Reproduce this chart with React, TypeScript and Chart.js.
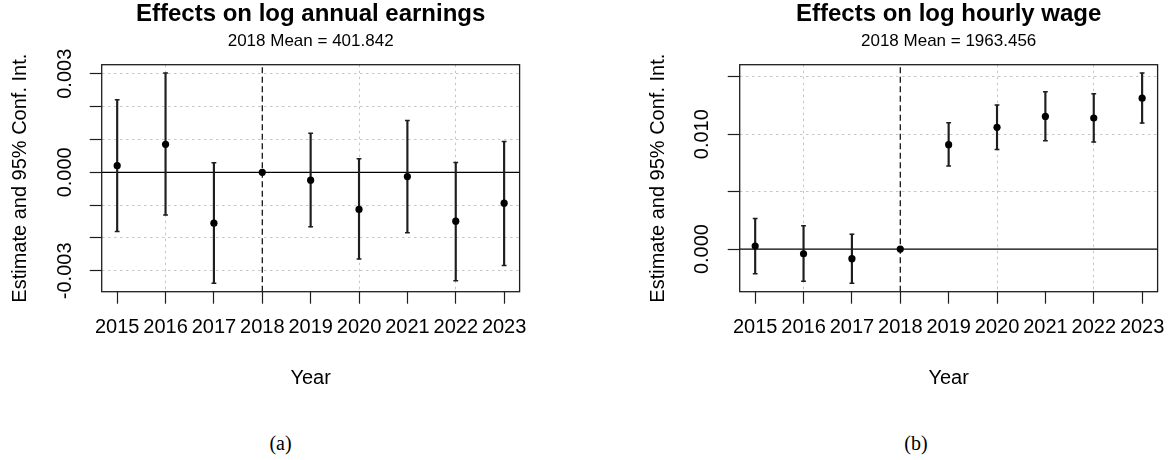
import { useEffect, useRef } from 'react';
import { Chart, registerables } from 'chart.js';

Chart.register(...registerables);
Chart.defaults.font.family = "'Liberation Sans', Arial, Helvetica, sans-serif";
Chart.defaults.color = '#000';

// Event-study years; 2018 is the reference year (normalised to zero)
const years = [2015, 2016, 2017, 2018, 2019, 2020, 2021, 2022, 2023];
const refYear = 2018;

// Panel (a): log annual earnings
const earningsEst = [0.0002, 0.00085, -0.00155, 0, -0.00024, -0.00113, -0.00013, -0.00149, -0.00094];
const earningsLo = [-0.0018, -0.0013, -0.00338, null, -0.00166, -0.00264, -0.00184, -0.0033, -0.00284];
const earningsHi = [0.00221, 0.00302, 0.00029, null, 0.00119, 0.00041, 0.00158, 0.0003, 0.00094];
const earningsTicks = [-0.003, -0.002, -0.001, 0, 0.001, 0.002, 0.003];
const earningsTickLabels = ['-0.003', '', '', '0.000', '', '', '0.003'];

// Panel (b): log hourly wage
const wageEst = [0.00026, -0.00041, -0.00084, 0, 0.00909, 0.0106, 0.01155, 0.01141, 0.01314];
const wageLo = [-0.00214, -0.00281, -0.00298, null, 0.00724, 0.00866, 0.00944, 0.00932, 0.01097];
const wageHi = [0.00266, 0.00203, 0.0013, null, 0.011, 0.01254, 0.01369, 0.01352, 0.01532];
const wageTicks = [0, 0.005, 0.01, 0.015];
const wageTickLabels = ['0.000', '', '0.010', ''];

const GRID = '#c6c6c6';
const CLEAR = 'rgba(0,0,0,0)';
const INK = '#1e1e1e';

// base-R style axis limits: data range widened by 4% on each side
function padRange(values: number[]) {
  const lo = Math.min(...values);
  const hi = Math.max(...values);
  const d = (hi - lo) * 0.04;
  return [lo - d, hi + d];
}

const plotBox = {
  id: 'plotBox',
  afterDraw(chart: any) {
    const { ctx, chartArea } = chart;
    const { left, top, right, bottom } = chartArea;
    ctx.save();
    ctx.strokeStyle = INK;
    ctx.lineWidth = 1.3;
    ctx.strokeRect(left, top, right - left, bottom - top);
    ctx.restore();
  },
};

type PanelProps = {
  left: number;
  title: string;
  subtitle: string;
  est: number[];
  lo: (number | null)[];
  hi: (number | null)[];
  yTicks: number[];
  yTickLabels: string[];
  yTickPad: number;
};

function Panel(p: PanelProps) {
  const ref = useRef<HTMLCanvasElement>(null);

  useEffect(() => {
    const [xMin, xMax] = padRange(years);
    const finite = [...p.est, ...p.lo, ...p.hi].filter((v) => v !== null) as number[];
    const [yMin, yMax] = padRange(finite);

    const points = years.map((x, i) => ({ x, y: p.est[i] }));
    const caps: { x: number; y: number }[] = [];
    const whiskers: { x: number; y: [number, number] }[] = [];
    years.forEach((x, i) => {
      const l = p.lo[i];
      const h = p.hi[i];
      if (l !== null && h !== null) {
        caps.push({ x, y: l }, { x, y: h });
        whiskers.push({ x, y: [l, h] });
      }
    });

    const chart = new Chart(ref.current as HTMLCanvasElement, {
      type: 'scatter',
      data: {
        datasets: [
          {
            type: 'scatter',
            data: points,
            pointRadius: 3.6,
            pointHoverRadius: 3.6,
            backgroundColor: '#000',
            borderWidth: 0,
          },
          {
            type: 'scatter',
            data: caps,
            pointStyle: 'line',
            pointRadius: 2.4,
            borderColor: INK,
            borderWidth: 1.5,
          },
          {
            type: 'bar',
            data: whiskers as any,
            barThickness: 1.5,
            backgroundColor: INK,
            borderWidth: 0,
          },
          {
            type: 'line',
            data: [
              { x: xMin, y: 0 },
              { x: xMax, y: 0 },
            ],
            borderColor: '#000',
            borderWidth: 1.2,
            pointRadius: 0,
            fill: false,
          },
          {
            type: 'line',
            data: [
              { x: refYear, y: yMin },
              { x: refYear, y: yMax },
            ],
            borderColor: '#000',
            borderWidth: 1.2,
            borderDash: [6, 3.5],
            pointRadius: 0,
            fill: false,
          },
        ] as any,
      },
      options: {
        responsive: false,
        animation: false,
        devicePixelRatio: 1,
        events: [],
        layout: { padding: { left: 0, right: 14.4, top: 0, bottom: 8.3 } },
        plugins: {
          legend: { display: false },
          tooltip: { enabled: false },
          title: {
            display: true,
            text: p.title,
            fullSize: false,
            color: '#000',
            font: { size: 24, weight: 'bold' },
            padding: { top: 0, bottom: 2.8 },
          },
          subtitle: {
            display: true,
            text: p.subtitle,
            fullSize: false,
            color: '#000',
            font: { size: 17 },
            padding: { top: 0, bottom: 12.7 },
          },
        },
        scales: {
          x: {
            type: 'linear',
            min: xMin,
            max: xMax,
            offset: false,
            afterBuildTicks: (s: any) => {
              s.ticks = years.map((v) => ({ value: v }));
            },
            afterFit: (s: any) => {
              s.height = 100;
            },
            ticks: {
              autoSkip: false,
              minRotation: 0,
              maxRotation: 0,
              padding: 0,
              color: '#000',
              font: { size: 20, lineHeight: 2.35 },
              callback: (v: any) => String(v),
            },
            grid: {
              offset: false,
              color: (c: any) =>
                c.tick && c.tick.value % 2 === 0 && c.tick.value !== refYear ? GRID : CLEAR,
              lineWidth: 1,
              tickColor: INK,
              tickLength: 12,
              tickWidth: 1.2,
            },
            border: { display: false, dash: [2.5, 3.5] },
            title: {
              display: true,
              text: 'Year',
              color: '#000',
              font: { size: 20 },
              padding: { top: 0, bottom: 1.7 },
            },
          },
          y: {
            type: 'linear',
            min: yMin,
            max: yMax,
            afterBuildTicks: (s: any) => {
              s.ticks = p.yTicks.map((v) => ({ value: v }));
            },
            afterFit: (s: any) => {
              s.width = 101.7;
            },
            ticks: {
              autoSkip: false,
              minRotation: 90,
              maxRotation: 90,
              crossAlign: 'center',
              padding: p.yTickPad,
              color: '#000',
              font: { size: 20 },
              callback: (_v: any, i: number) => p.yTickLabels[i],
            },
            grid: {
              color: (c: any) => (c.tick && c.tick.value === 0 ? CLEAR : GRID),
              lineWidth: 1,
              tickColor: INK,
              tickLength: 12,
              tickWidth: 1.2,
            },
            border: { display: false, dash: [2.5, 3.5] },
            title: {
              display: true,
              text: 'Estimate and 95% Conf. Int.',
              color: '#000',
              font: { size: 20 },
              padding: { top: 8, bottom: 0 },
            },
          },
        },
      } as any,
      plugins: [plotBox],
    });
    return () => chart.destroy();
  }, []);

  return (
    <canvas
      ref={ref}
      width={534}
      height={400}
      style={{ position: 'absolute', left: p.left, top: 0, width: 534, height: 400 }}
    />
  );
}

const captionStyle = {
  position: 'absolute' as const,
  top: 431,
  width: 100,
  height: 24,
  lineHeight: '24px',
  textAlign: 'center' as const,
  fontFamily: "'Liberation Serif', 'Times New Roman', serif",
  fontSize: 20,
  color: '#000',
};

export default function App() {
  return (
    <div
      style={{
        position: 'absolute',
        left: 0,
        top: 0,
        width: 1172,
        height: 460,
        overflow: 'hidden',
        background: '#fff',
      }}
    >
      <Panel
        left={0}
        title="Effects on log annual earnings"
        subtitle="2018 Mean = 401.842"
        est={earningsEst}
        lo={earningsLo}
        hi={earningsHi}
        yTicks={earningsTicks}
        yTickLabels={earningsTickLabels}
        yTickPad={-3.85}
      />
      <Panel
        left={638}
        title="Effects on log hourly wage"
        subtitle="2018 Mean = 1963.456"
        est={wageEst}
        lo={wageLo}
        hi={wageHi}
        yTicks={wageTicks}
        yTickLabels={wageTickLabels}
        yTickPad={-0.3}
      />
      <div style={{ ...captionStyle, left: 230.5 }}>(a)</div>
      <div style={{ ...captionStyle, left: 866 }}>(b)</div>
    </div>
  );
}
